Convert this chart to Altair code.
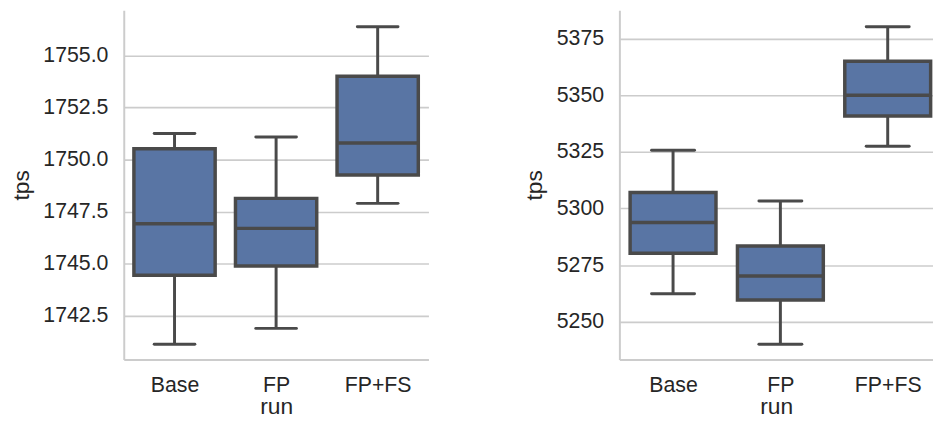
import json
import altair as alt
import pandas as pd

runs = ["Base", "FP", "FP+FS"]

# left panel (tps) box statistics
left_min = [1741.14, 1741.90, 1747.90]
left_q1 = [1744.45, 1744.89, 1749.26]
left_med = [1746.92, 1746.70, 1750.80]
left_q3 = [1750.52, 1748.14, 1754.00]
left_max = [1751.25, 1751.09, 1756.38]
left_ticks = [1742.5, 1745.0, 1747.5, 1750.0, 1752.5, 1755.0]

# right panel (tps) box statistics
right_min = [5262.4, 5240.1, 5327.5]
right_q1 = [5280.3, 5259.6, 5340.8]
right_med = [5293.8, 5270.2, 5350.0]
right_q3 = [5307.1, 5283.5, 5365.0]
right_max = [5325.7, 5303.3, 5380.2]
right_ticks = [5250, 5275, 5300, 5325, 5350, 5375]

FILL = "#5975a4"
LINE = "#4a4a4a"
FONT = "Liberation Sans"
label_expr = json.dumps(runs) + "[datum.value]"


def panel(mn, q1, med, q3, mx, ticks, fmt, ydom, xdom, width):
    df = pd.DataFrame({"run": runs, "pos": list(range(len(runs))),
                       "mn": mn, "q1": q1, "med": med, "q3": q3, "mx": mx})
    xs = alt.Scale(domain=xdom, nice=False, zero=False)
    ys = alt.Scale(domain=ydom, nice=False, zero=False)
    base = alt.Chart(df).transform_calculate(
        bl="datum.pos - 0.4", br="datum.pos + 0.4",
        cl="datum.pos - 0.2", cr="datum.pos + 0.2")
    xaxis = alt.Axis(title="run", values=list(range(len(runs))), labelExpr=label_expr)
    yaxis = alt.Axis(title="tps", values=ticks, format=fmt)

    whisk_hi = base.mark_rule(color=LINE, strokeWidth=3).encode(
        x=alt.X("pos:Q", scale=xs, axis=xaxis),
        y=alt.Y("q3:Q", scale=ys, axis=yaxis), y2="mx:Q")
    whisk_lo = base.mark_rule(color=LINE, strokeWidth=3).encode(
        x=alt.X("pos:Q", scale=xs), y=alt.Y("q1:Q", scale=ys), y2="mn:Q")
    box = base.mark_bar(color=FILL, stroke=LINE, strokeWidth=3.5).encode(
        x=alt.X("bl:Q", scale=xs), x2="br:Q",
        y=alt.Y("q3:Q", scale=ys), y2="q1:Q")
    median = base.mark_rule(color=LINE, strokeWidth=3.5).encode(
        x=alt.X("bl:Q", scale=xs), x2="br:Q", y=alt.Y("med:Q", scale=ys))
    cap_hi = base.mark_rule(color=LINE, strokeWidth=3, strokeCap="round").encode(
        x=alt.X("cl:Q", scale=xs), x2="cr:Q", y=alt.Y("mx:Q", scale=ys))
    cap_lo = base.mark_rule(color=LINE, strokeWidth=3, strokeCap="round").encode(
        x=alt.X("cl:Q", scale=xs), x2="cr:Q", y=alt.Y("mn:Q", scale=ys))
    return alt.layer(whisk_hi, whisk_lo, box, median, cap_hi, cap_lo).properties(
        width=width, height=353)


left = panel(left_min, left_q1, left_med, left_q3, left_max, left_ticks, ".1f",
             [1740.41, 1757.17], [-0.5, 2.5], 308)
right = panel(right_min, right_q1, right_med, right_q3, right_max, right_ticks, "d",
              [5233.4, 5387.5], [-0.5, 2.422], 317)

chart = alt.hconcat(left, right, spacing=96).properties(
    padding={"left": 2, "top": 0, "right": 0, "bottom": 0}
).configure_view(stroke=None).configure_axis(
    grid=True, gridColor="#cccccc", gridWidth=1.6,
    domainColor="#cccccc", domainWidth=2, ticks=False,
    labelFont=FONT, labelFontSize=21.5, labelColor="#262626",
    titleFont=FONT, titleFontSize=23, titleFontWeight="normal",
    titleColor="#262626"
).configure_axisX(
    grid=False, labelPadding=15, titlePadding=0
).configure_axisY(
    labelPadding=16, titlePadding=9.5
)

chart.save("out.html", embed_options={"renderer": "svg", "actions": False})
